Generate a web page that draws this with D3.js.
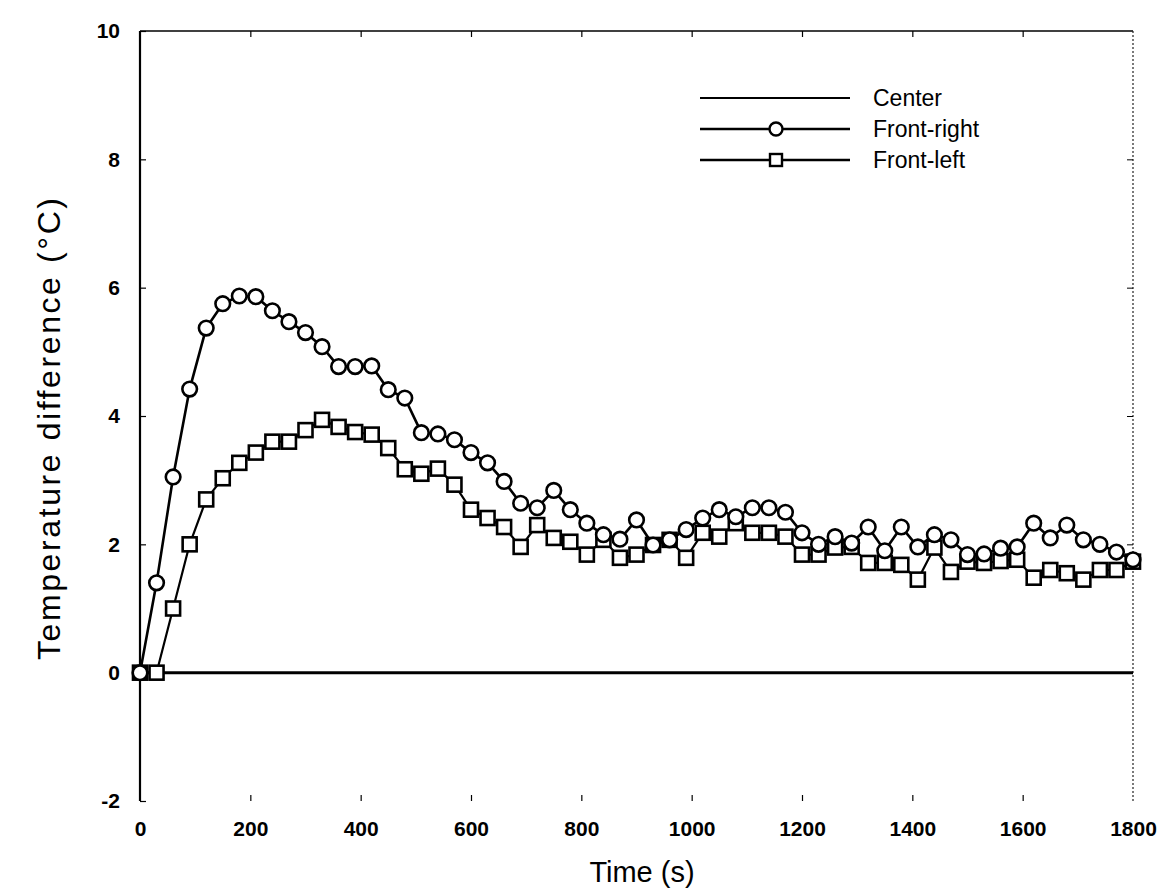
<!DOCTYPE html>
<html>
<head>
<meta charset="utf-8">
<script src="https://cdn.jsdelivr.net/npm/d3@7"></script>
<style>
  body { margin: 0; background: #fff; }
  text { font-family: "Liberation Sans", Arial, sans-serif; fill: #000; }
  .tick-label { font-size: 21px; font-weight: bold; }
  .axisText { font-size: 29px; }
  .legendText { font-size: 23px; }
</style>
</head>
<body>
<div class="chart"></div>
<script>
// Data (time step 30 s)
var times = [0, 30, 60, 90, 120, 150, 180, 210, 240, 270, 300, 330, 360, 390, 420, 450, 480, 510, 540, 570,
  600, 630, 660, 690, 720, 750, 780, 810, 840, 870, 900, 930, 960, 990, 1020, 1050, 1080, 1110, 1140, 1170,
  1200, 1230, 1260, 1290, 1320, 1350, 1380, 1410, 1440, 1470, 1500, 1530, 1560, 1590, 1620, 1650, 1680, 1710, 1740, 1770, 1800];

var frontRight = [0, 1.4, 3.05, 4.42, 5.37, 5.75, 5.87, 5.86, 5.64, 5.47, 5.3, 5.08, 4.77, 4.77, 4.78, 4.41, 4.28, 3.74, 3.72, 3.63,
  3.43, 3.27, 2.98, 2.64, 2.57, 2.84, 2.54, 2.33, 2.15, 2.08, 2.38, 1.99, 2.07, 2.23, 2.41, 2.54, 2.43, 2.57, 2.57, 2.5,
  2.18, 2.0, 2.12, 2.02, 2.27, 1.9, 2.27, 1.96, 2.15, 2.07, 1.84, 1.85, 1.94, 1.96, 2.33, 2.1, 2.3, 2.07, 2.0, 1.88, 1.76];

var frontLeft = [0, 0, 1.0, 2.0, 2.7, 3.03, 3.27, 3.43, 3.6, 3.6, 3.78, 3.94, 3.83, 3.75, 3.71, 3.5, 3.17, 3.1, 3.18, 2.93,
  2.54, 2.41, 2.27, 1.96, 2.3, 2.1, 2.04, 1.84, 2.07, 1.79, 1.84, 1.99, 2.07, 1.79, 2.18, 2.12, 2.33, 2.18, 2.18, 2.12,
  1.84, 1.84, 1.95, 1.96, 1.71, 1.71, 1.68, 1.45, 1.95, 1.57, 1.73, 1.71, 1.74, 1.76, 1.48, 1.6, 1.55, 1.45, 1.6, 1.6, 1.73];

var centerTimes = [0, 1800];
var centerValues = [0, 0];

var xTicks = [0, 200, 400, 600, 800, 1000, 1200, 1400, 1600, 1800];
var yTicks = [-2, 0, 2, 4, 6, 8, 10];

var seriesNames = ["Center", "Front-right", "Front-left"];

var svgWidth = 1174;
var svgHeight = 890;
var margin = { top: 31, right: 41, bottom: 89, left: 140 };
var width = svgWidth - margin.left - margin.right;
var height = svgHeight - margin.top - margin.bottom;

var svg = d3.select(".chart")
  .append("svg")
  .attr("width", svgWidth)
  .attr("height", svgHeight);

var chartGroup = svg.append("g")
  .attr("transform", `translate(${margin.left}, ${margin.top})`);

var xScale = d3.scaleLinear().domain([0, 1800]).range([0, width]);
var yScale = d3.scaleLinear().domain([-2, 10]).range([height, 0]);

// Frame: left axis solid, top thin, right dotted, no bottom line
chartGroup.append("line")
  .attr("x1", 0).attr("x2", 0).attr("y1", 0).attr("y2", height)
  .attr("stroke", "#000").attr("stroke-width", 2.2);
chartGroup.append("line")
  .attr("x1", 0).attr("x2", width).attr("y1", 0).attr("y2", 0)
  .attr("stroke", "#000").attr("stroke-width", 1.5);
chartGroup.append("line")
  .attr("x1", width).attr("x2", width).attr("y1", 0).attr("y2", height)
  .attr("stroke", "#222").attr("stroke-width", 1.2).attr("stroke-dasharray", "2,2");

// Axes with inward ticks
var bottomAxis = d3.axisBottom(xScale).tickValues(xTicks).tickSize(-6).tickPadding(28)
  .tickFormat(d => String(d));
var leftAxis = d3.axisLeft(yScale).tickValues(yTicks).tickSize(-6).tickPadding(20)
  .tickFormat(d => String(d));

var xAxisG = chartGroup.append("g")
  .attr("transform", `translate(0, ${height})`)
  .call(bottomAxis);
xAxisG.select(".domain").remove();
xAxisG.selectAll(".tick line").attr("stroke", "#000").attr("stroke-width", 1.2)
  .filter(d => d === 0 || d === 1800).remove();
xAxisG.selectAll("text").attr("class", "tick-label").attr("dy", "0.35em");

var yAxisG = chartGroup.append("g").call(leftAxis);
yAxisG.select(".domain").remove();
yAxisG.selectAll(".tick line").attr("stroke", "#000").attr("stroke-width", 1.2);
yAxisG.selectAll("text").attr("class", "tick-label");

// top ticks
chartGroup.append("g")
  .call(d3.axisTop(xScale).tickValues(xTicks.slice(1, -1)).tickSize(-6).tickFormat(""))
  .call(g => g.select(".domain").remove())
  .selectAll(".tick line").attr("stroke", "#000").attr("stroke-width", 1.2);

// right ticks
chartGroup.append("g")
  .attr("transform", `translate(${width}, 0)`)
  .call(d3.axisRight(yScale).tickValues(yTicks.slice(1, -1)).tickSize(-6).tickFormat(""))
  .call(g => g.select(".domain").remove())
  .selectAll(".tick line").attr("stroke", "#000").attr("stroke-width", 1);

var line = d3.line()
  .x(d => xScale(d[0]))
  .y(d => yScale(d[1]));

// Center
chartGroup.append("path")
  .datum(d3.zip(centerTimes, centerValues))
  .attr("d", line)
  .attr("fill", "none").attr("stroke", "#000").attr("stroke-width", 3);

// Front-left
var flData = d3.zip(times, frontLeft);
chartGroup.append("path")
  .datum(flData)
  .attr("d", line)
  .attr("fill", "none").attr("stroke", "#000").attr("stroke-width", 2.2);

// Front-right
var frData = d3.zip(times, frontRight);
chartGroup.append("path")
  .datum(frData)
  .attr("d", line)
  .attr("fill", "none").attr("stroke", "#000").attr("stroke-width", 2.6);

var sq = 14;
chartGroup.selectAll(".sq")
  .data(flData)
  .enter()
  .append("rect")
  .attr("class", "sq")
  .attr("x", d => xScale(d[0]) - sq / 2)
  .attr("y", d => yScale(d[1]) - sq / 2)
  .attr("width", sq).attr("height", sq)
  .attr("fill", "#fff").attr("stroke", "#000").attr("stroke-width", 2.6);

chartGroup.selectAll(".circ")
  .data(frData)
  .enter()
  .append("circle")
  .attr("class", "circ")
  .attr("cx", d => xScale(d[0]))
  .attr("cy", d => yScale(d[1]))
  .attr("r", 7.3)
  .attr("fill", "#fff").attr("stroke", "#000").attr("stroke-width", 2.6);

// Legend
var legend = svg.append("g").attr("transform", "translate(700, 98)");
var rowGap = 31;
seriesNames.forEach(function (name, i) {
  var row = legend.append("g").attr("transform", `translate(0, ${i * rowGap})`);
  row.append("line")
    .attr("x1", 0).attr("x2", 150).attr("y1", 0).attr("y2", 0)
    .attr("stroke", "#000").attr("stroke-width", i === 0 ? 1.8 : 2.4);
  if (i === 1) {
    row.append("circle").attr("cx", 76).attr("cy", 0).attr("r", 6.5)
      .attr("fill", "#fff").attr("stroke", "#000").attr("stroke-width", 2.4);
  }
  if (i === 2) {
    row.append("rect").attr("x", 70).attr("y", -6).attr("width", 12).attr("height", 12)
      .attr("fill", "#fff").attr("stroke", "#000").attr("stroke-width", 2.4);
  }
  row.append("text")
    .attr("class", "legendText")
    .attr("x", 173).attr("y", 0).attr("dy", "0.35em")
    .text(name);
});

// Axis titles
svg.append("text")
  .attr("class", "axisText")
  .style("font-size", "32px")
  .attr("transform", `translate(60, 429) rotate(-90)`)
  .attr("text-anchor", "middle")
  .attr("textLength", 462)
  .attr("lengthAdjust", "spacing")
  .text("Temperature difference (°C)");

svg.append("text")
  .attr("class", "axisText")
  .attr("x", 642)
  .attr("y", 882)
  .attr("text-anchor", "middle")
  .text("Time (s)");
</script>
</body>
</html>
